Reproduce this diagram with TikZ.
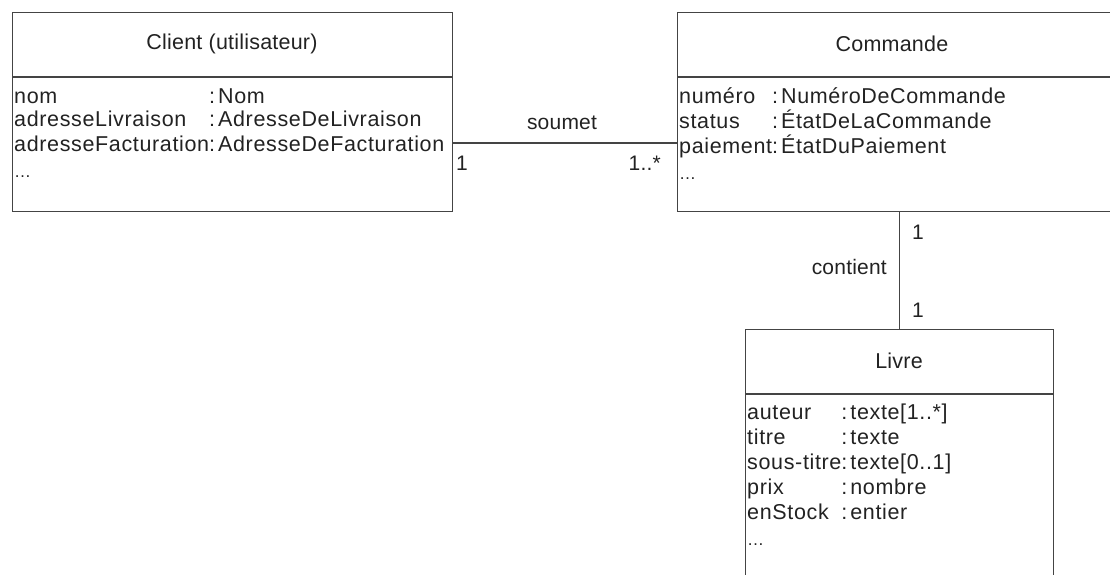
\documentclass[tikz,border=0pt]{standalone}
\usepackage{fontspec}
\setmainfont{Liberation Sans}
\newfontfamily\attrfont[LetterSpace=3]{Liberation Sans}
\newfontfamily\namefont[LetterSpace=1]{Liberation Sans}
\usepackage{array}
\definecolor{ink}{HTML}{222222}
\definecolor{edge}{HTML}{444444}
\tikzset{
  classbox/.style={draw=edge, line width=1.1pt, anchor=north west, inner sep=0pt},
  divider/.style={draw=edge, line width=1.1pt},
  assoc/.style={draw=edge, line width=1.1pt},
  title/.style={text=ink, font=\namefont\fontsize{21.5}{25}\selectfont, inner sep=0pt},
  attrs/.style={text=ink, font=\attrfont\fontsize{21.5}{25}\selectfont, inner sep=0pt, anchor=base west, align=left},
  mult/.style={text=ink, font=\namefont\fontsize{21}{25}\selectfont, inner sep=0pt},
}
\newcommand{\ty}[1]{:\hspace{3pt}#1}
\newcommand{\more}{{\fontsize{17}{17}\selectfont\ldots}}
\begin{document}
\begin{tikzpicture}[x=1pt, y=-1pt]
  \useasboundingbox (0,0) rectangle (1110,575);
  \clip (0,0) rectangle (1110,575);

  % class boxes
  \node[classbox, minimum width=440pt, minimum height=199pt] (client) at (12,12) {};
  \node[classbox, minimum width=460pt, minimum height=199pt] (commande) at (677,12) {};
  \node[classbox, minimum width=308pt, minimum height=300pt] (livre) at (745,329) {};

  % header dividers
  \draw[divider] ([yshift=-65pt]client.north west) -- ([yshift=-65pt]client.north east);
  \draw[divider] ([yshift=-65pt]commande.north west) -- ([yshift=-65pt]commande.north east);
  \draw[divider] ([yshift=-65pt]livre.north west) -- ([yshift=-65pt]livre.north east);

  % class names
  \node[title] (clientname) at (232,44) {Client (utilisateur)};
  \node[title] (commandename) at (892,44) {Commande};
  \node[title] (livrename) at (899,361) {Livre};

  % attributes
  \node[attrs] (clientattrs) at (14,103) {%
    \begin{tabular}[t]{@{}l@{}l@{}}
      nom & \ty{Nom}\\[-1pt]
      adresseLivraison & \ty{AdresseDeLivraison}\\[-1pt]
      adresseFacturation & \ty{AdresseDeFacturation}\\[1pt]
      \more & \\
    \end{tabular}};
  \node[attrs] (commandeattrs) at (679,103) {%
    \begin{tabular}[t]{@{}l@{}l@{}}
      numéro & \ty{NuméroDeCommande}\\[-1pt]
      status & \ty{ÉtatDeLaCommande}\\[-1pt]
      paiement & \ty{ÉtatDuPaiement}\\[1pt]
      \more & \\
    \end{tabular}};
  \node[attrs] (livreattrs) at (747,419) {%
    \begin{tabular}[t]{@{}l@{}l@{}}
      auteur & \ty{texte[1..*]}\\
      titre & \ty{texte}\\
      sous-titre & \ty{texte[0..1]}\\
      prix & \ty{nombre}\\
      enStock & \ty{entier}\\[1pt]
      \more & \\
    \end{tabular}};

  % associations
  \draw[assoc] ([yshift=-131pt]client.north east) coordinate (soumetA)
    -- ([yshift=-131pt]commande.north west) coordinate (soumetB);
  \draw[assoc] (livre.north |- commande.south) coordinate (contientA)
    -- (livre.north) coordinate (contientB);

  % association labels and multiplicities
  \node[mult] (soumetlbl) at (562,123) {soumet};
  \node[mult, anchor=west] (m1) at (456,163) {1};
  \node[mult, anchor=east] (m2) at (661,163) {1..*};
  \node[mult, anchor=east] (contientlbl) at (887,267) {contient};
  \node[mult, anchor=west] (m3) at (912,232) {1};
  \node[mult, anchor=west] (m4) at (912,310) {1};
\end{tikzpicture}
\end{document}
